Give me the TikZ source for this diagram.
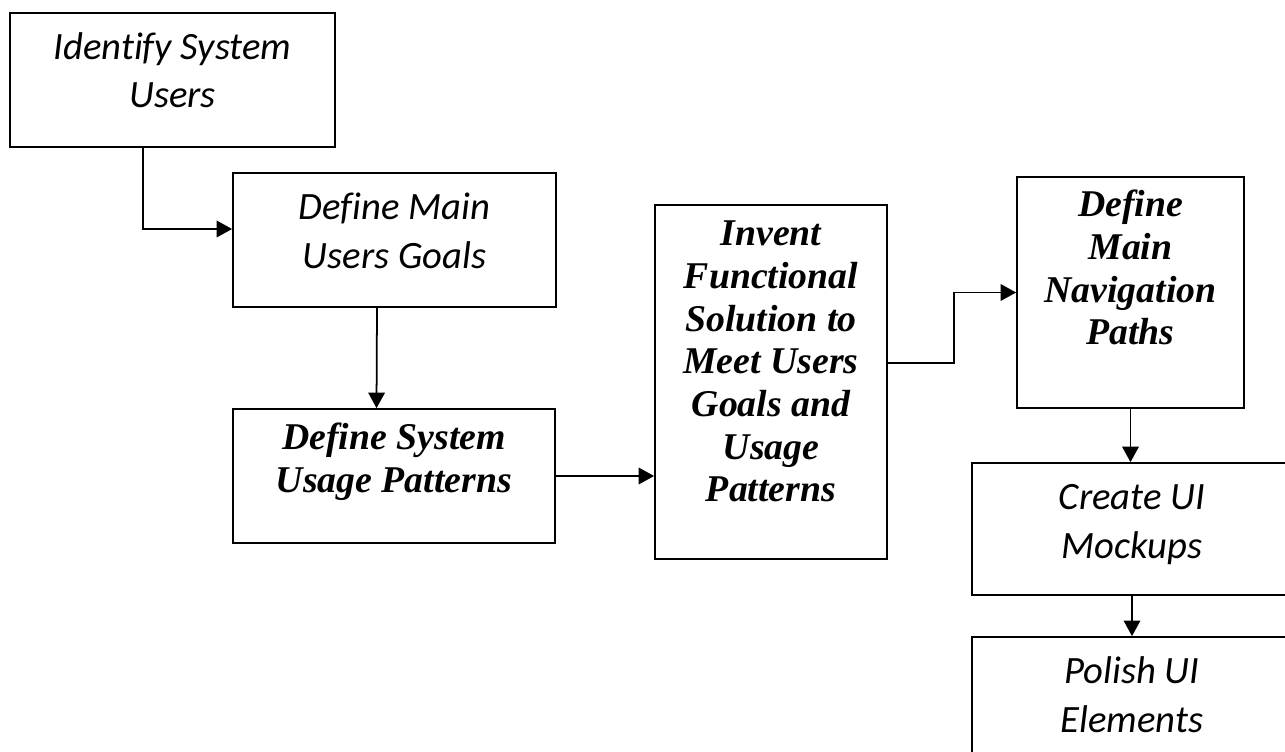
\documentclass[tikz,border=0pt]{standalone}
\usepackage{fontspec}
\setmainfont{Carlito}[Ligatures=NoCommon]
\newfontfamily\timesbi{Liberation Serif}[Ligatures=NoCommon]
\usetikzlibrary{arrows.meta}

\tikzset{
  box/.style={draw, line width=1pt, inner sep=0pt, align=center},
  calbox/.style={box, font=\fontsize{22}{27.5}\selectfont\itshape, text height=1.9cm},
  timbox/.style={box, font=\timesbi\bfseries\itshape\fontsize{21.5}{24.3}\selectfont},
  arr/.style={-{Triangle[length=3.1mm,width=3.3mm]}, line width=1pt}
}

\begin{document}
\begin{tikzpicture}[x=0.02cm, y=-0.02cm]
  \useasboundingbox (0,0) rectangle (1285,751);
  \clip (0,0) rectangle (1285,751);

  % steps
  \node[calbox, minimum width=6.5cm, minimum height=2.68cm, text depth=0.78cm] (iden) at (172.5,80) {Identify System\\Users};
  \node[calbox, minimum width=6.46cm, minimum height=2.68cm, text depth=0.78cm] (goals) at (394.5,240) {Define Main\\Users Goals};
  \node[timbox, minimum width=6.44cm, minimum height=2.68cm, text height=1.66cm, text depth=1.02cm] (usage) at (394,476) {Define System\\Usage Patterns};
  \node[timbox, minimum width=4.64cm, minimum height=7.08cm, text height=5.94cm, text depth=1.14cm] (invent) at (771,382) {Invent\\Functional\\Solution to\\Meet Users\\Goals and\\Usage\\Patterns};
  \node[timbox, minimum width=4.54cm, minimum height=4.62cm, text height=3.36cm, text depth=1.26cm] (nav) at (1130.5,292.5) {Define\\Main\\Navigation\\Paths};
  \node[calbox, minimum width=6.4cm, minimum height=2.64cm, text depth=0.74cm] (mock) at (1132,529) {Create UI\\Mockups};
  \node[calbox, minimum width=6.4cm, minimum height=2.64cm, text depth=0.74cm] (polish) at (1132,703) {Polish UI\\Elements};

  % flow
  \draw[arr] ([xshift=-0.59cm]iden.south) |- ([yshift=0.22cm]goals.west);
  \draw[arr] ([xshift=-0.35cm]goals.south) -- ([xshift=-0.35cm]usage.north);
  \draw[arr] (usage.east) -- (usage.east -| invent.west);
  \draw[arr] ([yshift=0.38cm]invent.east) -- ++(66,0) |- (nav.west);
  \draw[arr] (nav.south) -- (nav.south |- mock.north);
  \draw[arr] (mock.south) -- (polish.north);
\end{tikzpicture}
\end{document}
